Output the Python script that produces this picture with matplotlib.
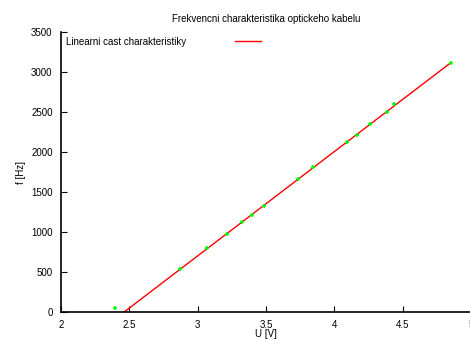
import matplotlib
matplotlib.use("Agg")
import matplotlib.pyplot as plt
import numpy as np

# measured points (U [V], f [Hz])
u_meas = [2.394, 2.872, 3.071, 3.212, 3.323, 3.394, 3.482, 3.735,
          3.842, 4.093, 4.163, 4.263, 4.382, 4.440, 4.852]
f_meas = [45, 540, 804, 975, 1129, 1216, 1329, 1667,
          1808, 2129, 2216, 2350, 2504, 2596, 3116]

# linear part of the characteristic (end points of the fitted line)
u_fit = [2.462, 4.852]
f_fit = [0, 3116]

plt.rcParams["font.family"] = ["Liberation Sans", "DejaVu Sans"]
plt.rcParams["font.size"] = 7

fig = plt.figure(figsize=(4.7, 3.4), dpi=100)
ax = fig.add_axes([61 / 470, 28 / 340, 410 / 470, 280 / 340])

ax.plot(u_fit, f_fit, color="#ff0000", lw=1.0, label="Linearni cast charakteristiky")
ax.plot(u_meas, f_meas, "+", color="#00ff00", ms=3.5, mew=1.2, clip_on=False)

ax.set_xlim(2, 5)
ax.set_ylim(0, 3500)
ax.set_xticks(np.arange(2, 5.01, 0.5))
ax.set_xticklabels(["2", "2.5", "3", "3.5", "4", "4.5", "5"])
ax.set_yticks(range(0, 3501, 500))

for s in ["top", "right"]:
    ax.spines[s].set_visible(False)
ax.spines["left"].set_linewidth(1.2)
ax.spines["bottom"].set_linewidth(1.2)
ax.tick_params(direction="in", length=4, width=0.8, pad=6, labelsize=7)

ax.set_title("Frekvencni charakteristika optickeho kabelu", fontsize=7, pad=7)
ax.set_xlabel("U [V]", fontsize=7, labelpad=-1)
ax.set_ylabel("f [Hz]", fontsize=7, labelpad=4)

ax.legend(loc="upper left", frameon=False, fontsize=7, markerfirst=False,
          handlelength=2.7, handletextpad=5.0, borderaxespad=0.1,
          bbox_to_anchor=(0.0, 1.0))

fig.savefig("out.png", dpi=100)
